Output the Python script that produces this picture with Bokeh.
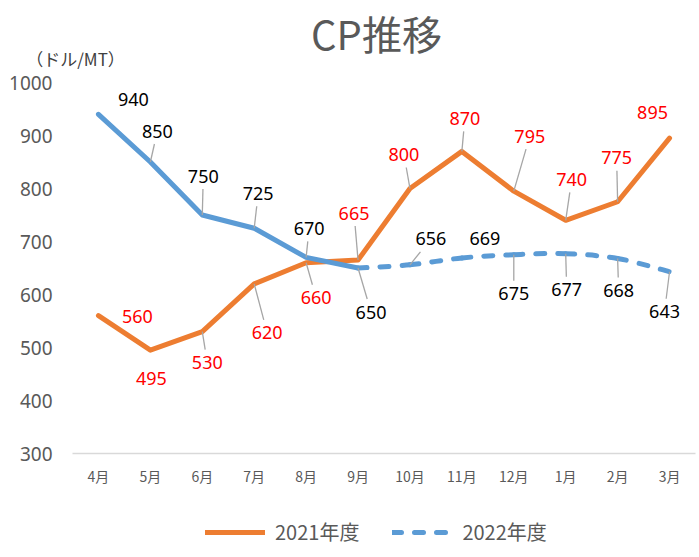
from bokeh.plotting import figure
from bokeh.models import Range1d, FixedTicker, Legend, LegendItem, ColumnDataSource, Label
from bokeh.core.properties import value
from bokeh.embed import file_html
from bokeh.resources import INLINE

# ---------------- data ----------------
months = ["4月", "5月", "6月", "7月", "8月", "9月", "10月", "11月", "12月", "1月", "2月", "3月"]
cp_2021 = [560, 495, 530, 620, 660, 665, 800, 870, 795, 740, 775, 895]
cp_2022 = [940, 850, 750, 725, 670, 650, 656, 669, 675, 677, 668, 643]
actual_2022 = 6          # 4月-9月 actual (solid), 9月-3月 outlook (dashed)
y_ticks = [300, 400, 500, 600, 700, 800, 900, 1000]
series_names = ["2021年度", "2022年度"]
title_text = "CP推移"
unit_text = "（ドル/MT）"

# ---------------- label placement (pixels, +dy = down) ----------------
off_2021 = [(39, 1), (1, 28), (5, 31), (13, 49), (10, 35), (-4, -47),
            (-6, -34), (3, -33), (16, -55), (6, -41), (-1, -44), (-17, -26)]
lead_2021 = [False, False, True, True, True, True, True, True, True, True, True, False]
off_2022 = [(35, -15), (7, -31), (1, -39), (4, -35), (3, -29), (13, 44),
            (21, -26), (23, -19), (0, 39), (1, 36), (1, 32), (-5, 40)]
lead_2022 = [False, True, True, True, True, True, True, False, True, True, True, True]

ORANGE = "#ED7D31"
BLUE = "#5B9BD5"
GREY = "#595959"
FONT = "Noto Sans CJK JP"
NUMFONT = "Noto Sans"

# ---------------- canvas geometry (px) ----------------
W, H = 699, 557
PL, PR = 72, 695          # plot-area left / right
PT, PB = 82, 453          # plot-area top / bottom
DX0, DX1 = -0.5, 11.5
DY0, DY1 = 300, 1000
ppx = (PR - PL) / (DX1 - DX0)
ppy = (PB - PT) / (DY1 - DY0)
x_range = Range1d(DX0 - PL / ppx, DX1 + (W - PR) / ppx)
y_range = Range1d(DY0 - (H - PB) / ppy, DY1 + PT / ppy)

p = figure(width=W, height=H, x_range=x_range, y_range=y_range,
           output_backend="svg", toolbar_location=None, title=None,
           min_border_left=0, min_border_right=0, min_border_top=0, min_border_bottom=0)
p.outline_line_color = None
p.xgrid.visible = False
p.ygrid.visible = False

xs = list(range(len(months)))

# axes (kept at the data edges of the plot area)
p.xaxis.fixed_location = DY0
p.xaxis.bounds = (DX0, DX1)
p.xaxis.ticker = FixedTicker(ticks=xs)
p.xaxis.major_label_overrides = {i: m for i, m in enumerate(months)}
p.xaxis.axis_line_color = "#D9D9D9"
p.xaxis.axis_line_width = 1.5
p.xaxis.major_tick_line_color = None
p.xaxis.minor_tick_line_color = None
p.xaxis.major_label_text_font = FONT
p.xaxis.major_label_text_font_size = "14px"
p.xaxis.major_label_text_color = GREY
p.xaxis.major_label_standoff = 6

p.yaxis.fixed_location = DX0
p.yaxis.bounds = (DY0, DY1)
p.yaxis.ticker = FixedTicker(ticks=y_ticks)
p.yaxis.axis_line_color = None
p.yaxis.major_tick_line_color = None
p.yaxis.minor_tick_line_color = None
p.yaxis.major_label_text_font = NUMFONT
p.yaxis.major_label_text_font_size = "19px"
p.yaxis.major_label_text_color = GREY
p.yaxis.major_label_standoff = 14

# series lines
r21 = p.line(xs, cp_2021, line_color=ORANGE, line_width=5, line_join="round", line_cap="round")
p.line(xs[:actual_2022], cp_2022[:actual_2022], line_color=BLUE, line_width=5,
       line_join="round", line_cap="round")

# smoothed dashed outlook part (bezier through the data points)
sx = xs[actual_2022 - 1:]
sy = cp_2022[actual_2022 - 1:]
n = len(sx)
bz = dict(x0=[], y0=[], x1=[], y1=[], cx0=[], cy0=[], cx1=[], cy1=[])
for i in range(n - 1):
    a = i - 1 if i > 0 else i
    d = i + 2 if i + 2 < n else i + 1
    bz["x0"].append(sx[i]); bz["y0"].append(sy[i])
    bz["x1"].append(sx[i + 1]); bz["y1"].append(sy[i + 1])
    bz["cx0"].append(sx[i] + (sx[i + 1] - sx[a]) / 6)
    bz["cy0"].append(sy[i] + (sy[i + 1] - sy[a]) / 6)
    bz["cx1"].append(sx[i + 1] - (sx[d] - sx[i]) / 6)
    bz["cy1"].append(sy[i + 1] - (sy[d] - sy[i]) / 6)
r22 = p.bezier(source=ColumnDataSource(bz), x0="x0", y0="y0", x1="x1", y1="y1",
               cx0="cx0", cy0="cy0", cx1="cx1", cy1="cy1",
               line_color=BLUE, line_width=5, line_dash="9 13", line_cap="round")


def add_labels(vals, offs, leads, color):
    lx0, ly0, lx1, ly1 = [], [], [], []
    hw, hh = 19, 13
    for i, (v, (dx, dy), ld) in enumerate(zip(vals, offs, leads)):
        if not ld:
            continue
        s = min(hw / abs(dx) if dx else 1e9, hh / abs(dy) if dy else 1e9)
        t = max(0.0, 1 - s)
        lx0.append(xs[i]); ly0.append(v)
        lx1.append(xs[i] + t * dx / ppx); ly1.append(v - t * dy / ppy)
    p.segment(lx0, ly0, lx1, ly1, line_color="#A6A6A6", line_width=1.3)
    src = ColumnDataSource(dict(x=xs, y=vals, t=[str(v) for v in vals],
                                dx=[o[0] for o in offs], dy=[o[1] for o in offs]))
    p.text(x="x", y="y", text="t", x_offset="dx", y_offset="dy", source=src,
           text_align="center", text_baseline="middle", text_color=color,
           text_font=value(NUMFONT), text_font_size="18px")


add_labels(cp_2021, off_2021, lead_2021, "#FF0000")
add_labels(cp_2022, off_2022, lead_2022, "#000000")

# title and unit (screen px from bottom-left)
p.add_layout(Label(x=376, y=H - 32, x_units="screen", y_units="screen", text=title_text,
                   text_align="center", text_baseline="middle", text_font=FONT,
                   text_font_size="40px", text_color=GREY))
p.add_layout(Label(x=75, y=H - 58, x_units="screen", y_units="screen", text=unit_text,
                   text_align="center", text_baseline="middle", text_font=FONT,
                   text_font_size="17px", text_color="#404040"))

legend = Legend(items=[LegendItem(label=series_names[0], renderers=[r21]),
                       LegendItem(label=series_names[1], renderers=[r22], index=0)],
                orientation="horizontal", location=(205, 11),
                glyph_width=60, glyph_height=20, label_height=20, label_standoff=10,
                spacing=33, padding=0, margin=0, border_line_color=None,
                background_fill_alpha=0, label_text_font=FONT,
                label_text_font_size="20px", label_text_color=GREY)
p.add_layout(legend)

open("out.html", "w").write(file_html(p, INLINE))
